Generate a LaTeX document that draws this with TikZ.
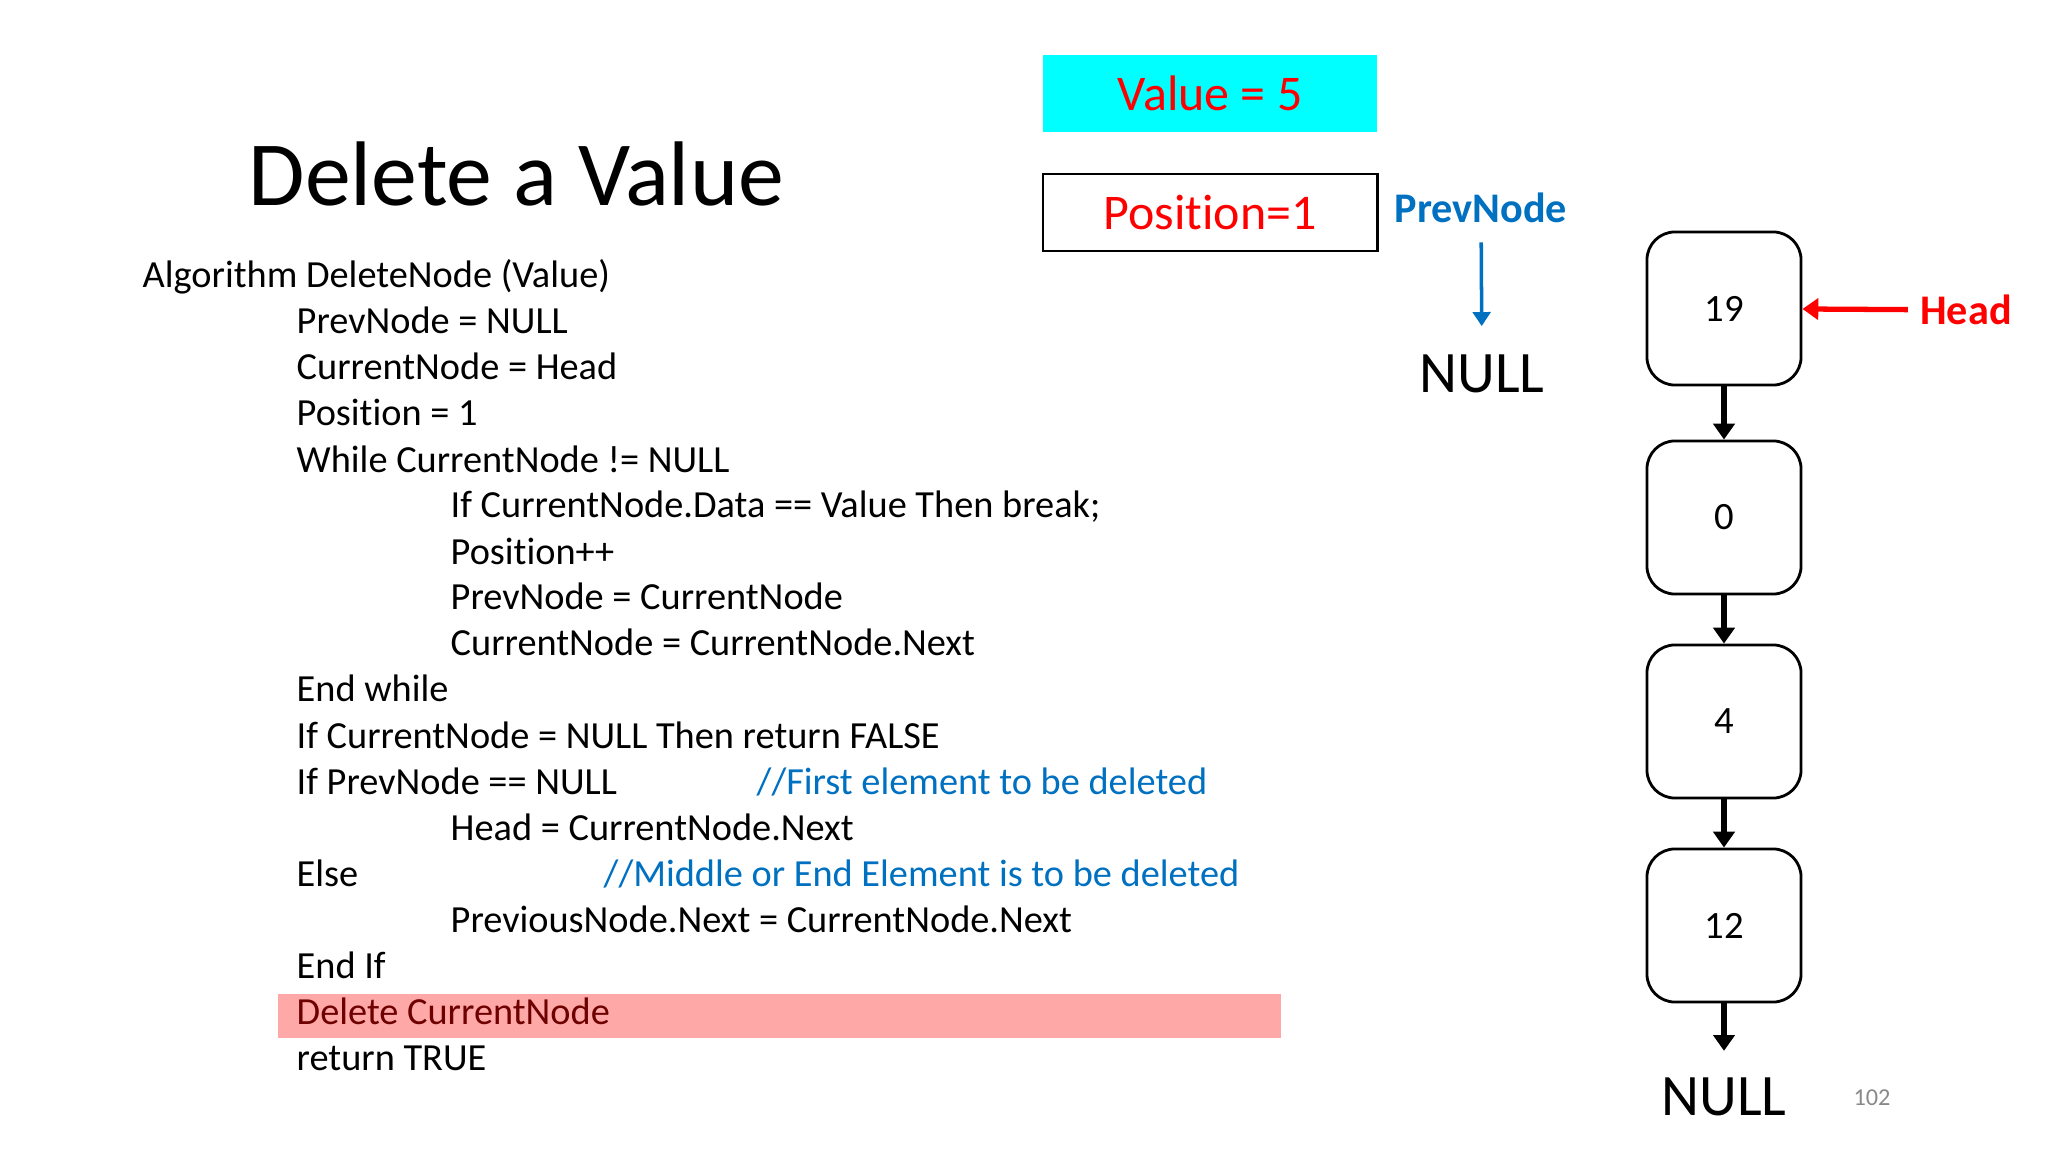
\documentclass[tikz,border=0pt]{standalone}
\usepackage{fontspec}
\setmainfont{Carlito}[Ligatures={NoCommon,NoContextual}]
\usepackage{tikz}
\usetikzlibrary{positioning}
\usetikzlibrary{arrows.meta}
\usetikzlibrary{calc}
\definecolor{slideblue}{RGB}{0,112,192}
\definecolor{slidecyan}{RGB}{0,255,255}
\definecolor{hlred}{RGB}{255,168,168}
\definecolor{darkred}{RGB}{110,0,0}
\definecolor{pagegray}{RGB}{137,137,137}
\tikzstyle{code}=[anchor=base west,inner sep=0pt,font=\fontsize{10.9}{13}\selectfont]
\tikzstyle{comment}=[code,text=slideblue]
\tikzstyle{listnode}=[draw,line width=0.8pt,rounded corners=0.28cm,minimum width=1.54cm,minimum height=1.53cm,inner sep=0pt,font=\fontsize{11}{13}\selectfont]
\tikzstyle{nullnode}=[inner sep=0pt,font=\fontsize{16.7}{19}\selectfont]
\tikzstyle{infobox}=[minimum width=3.34cm,minimum height=0.77cm,inner sep=0pt,text=red,font=\fontsize{14.2}{17}\selectfont]
\tikzstyle{link} = [draw,line width=1.5pt,-{Triangle[length=4.5pt,width=6pt]}]

\begin{document}
\begin{tikzpicture}[x=0.01cm,y=-0.01cm]
    \useasboundingbox (0,0) rectangle (2048,1152);
    % title
    \node[anchor=base west,inner sep=0pt,font=\fontsize{26.1}{30}\selectfont] (title) at (248,206) {Delete a Value};
    % the algorithm, one line per node
    \node[fill=hlred,minimum width=10.03cm,minimum height=0.44cm,inner sep=0pt] (hl) at (779.5,1016) {};
    \foreach \x/\row/\txt in {142/1/{Algorithm DeleteNode (Value)}, 296/2/{PrevNode = NULL}, 296/3/{CurrentNode = Head}, 296/4/{Position = 1}, 296/5/{While CurrentNode != NULL}, 450/6/{If CurrentNode.Data == Value Then break;}, 450/7/{Position++}, 450/8/{PrevNode = CurrentNode}, 450/9/{CurrentNode = CurrentNode.Next}, 296/10/{End while}, 296/11/{If CurrentNode = NULL Then return FALSE}, 296/12/{If PrevNode == NULL}, 450/13/{Head = CurrentNode.Next}, 296/14/{Else}, 450/15/{PreviousNode.Next = CurrentNode.Next}, 296/16/{End If}, 296/18/{return TRUE}}
        \node[code] (c\row) at (\x,{242+46*\row}) {\txt};
    \node[code,text=darkred] (c17) at (296,1024) {Delete CurrentNode};
    \node[comment] (cm1) at (756,794) {//First element to be deleted};
    \node[comment] (cm2) at (603,886) {//Middle or End Element is to be deleted};
    % value and position
    \node[infobox,fill=slidecyan] (value) at (1210,93.5) {Value = 5};
    \node[infobox,draw=black,line width=0.8pt] (pos) at (1210,212.5) {Position=1};
    % previous node pointer
    \node[text=slideblue,font=\bfseries\fontsize{12}{14}\selectfont] (prev) at (1481,208) {PrevNode};
    \node[nullnode] (null1) at (1482,374) {NULL};
    \draw[slideblue,line width=1pt,-{Triangle[length=4pt,width=5pt]},shorten <=2pt,shorten >=8pt] (prev) -- (null1);
    % the list
    \foreach \name/\val/\ypos in {n19/19/308.5, n0/0/517.5, n4/4/721.5, n12/12/925.5}
        \node[listnode] (\name) at (1724,\ypos) {\val};
    \node[nullnode] (null2) at (1724,1097) {NULL};
    \foreach \source/\dest in {n19/n0, n0/n4, n4/n12}
        \path[link] (\source) -- (\dest);
    \path[link,shorten >=7.5pt] (n12) -- (null2);
    % head pointer
    \node[text=red,font=\bfseries\fontsize{12}{14}\selectfont] (head) at (1966,310) {Head};
    \draw[red,line width=1.5pt,-{Triangle[length=4.5pt,width=6pt]}] (head) -- (n19);
    % page number
    \node[text=pagegray,font=\fontsize{6.9}{8}\selectfont] (page) at (1872,1098) {102};
\end{tikzpicture}
\end{document}
